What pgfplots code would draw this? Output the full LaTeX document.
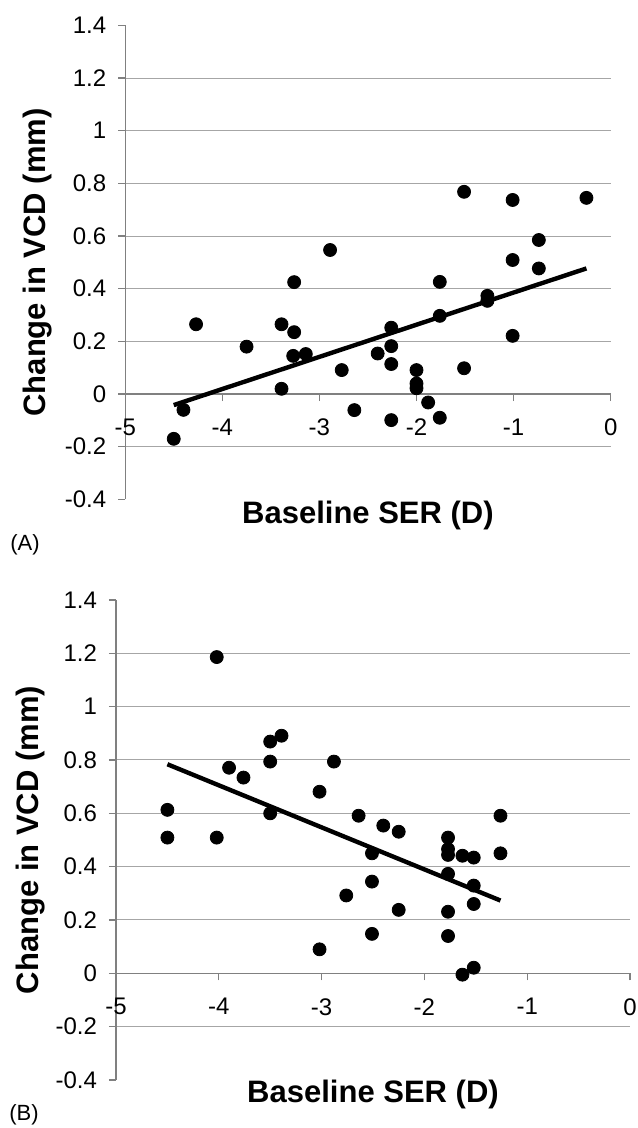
\documentclass[border=0pt]{standalone}
\usepackage{fontspec}
\setmainfont{Liberation Sans}
\usepackage{pgfplots}
\pgfplotsset{compat=1.18}
\definecolor{axgray}{HTML}{808080}
\definecolor{grgray}{HTML}{A6A6A6}
\pgfplotsset{
  panel/.style={
    scale only axis,
    xmin=-5, xmax=0, ymin=-0.4, ymax=1.4,
    axis x line*=middle, axis y line*=left,
    hide obscured x ticks=false, hide obscured y ticks=false,
    xtick={-5,-4,-3,-2,-1,0},
    ytick={-0.2,0,0.2,0.4,0.6,0.8,1,1.2},
    extra y ticks={-0.4,1.4},
    extra y tick style={grid=none},
    ymajorgrids,
    grid style={grgray, line width=0.5pt},
    axis line style={axgray, line width=0.6pt},
    tick style={axgray, line width=0.6pt},
    major tick length=3.5pt,
    tick align=outside,
    /pgf/number format/assume math mode=true,
    every tick label/.append style={font=\fontsize{12}{14}\selectfont},
    xticklabel style={yshift=-5.5pt},
    yticklabel style={xshift=-2.5pt},
    label style={font=\fontsize{15.5}{18}\selectfont\bfseries},
    clip=false,
  },
  dots/.style={only marks, mark=*, mark size=3.25pt, black, mark options={fill=black, draw=black}},
  trend/.style={black, line width=2.2pt, no marks},
}
\begin{document}
\begin{tikzpicture}
\path[use as bounding box] (0,0) rectangle (318.5pt,564pt);
% Panel A
\begin{axis}[panel, at={(62.6pt,314.3pt)}, anchor=south west,
  width=242.75pt, height=237pt,
  xlabel={Baseline SER (D)}, ylabel={Change in VCD (mm)},
  xlabel style={at={(axis description cs:0.5,-0.035)}, anchor=center},
  ylabel style={at={(axis description cs:-0.180,0.5)}, anchor=center}]
\addplot[dots] coordinates {
(-4.5,-0.17) (-4.4,-0.06) (-4.27,0.265) (-3.75,0.18) (-3.39,0.265) (-3.39,0.02)
(-3.26,0.425) (-3.26,0.235) (-3.27,0.145) (-3.14,0.152) (-2.89,0.547) (-2.77,0.091)
(-2.64,-0.061) (-2.40,0.154) (-2.26,0.252) (-2.26,0.182) (-2.26,0.114) (-2.26,-0.099)
(-2.0,0.091) (-2.0,0.04) (-2.0,0.022) (-1.88,-0.032) (-1.76,0.426) (-1.76,0.297)
(-1.76,-0.09) (-1.51,0.768) (-1.51,0.098) (-1.27,0.373) (-1.27,0.354) (-1.01,0.737)
(-1.01,0.509) (-1.01,0.221) (-0.74,0.585) (-0.74,0.477) (-0.25,0.745)
};
\addplot[trend] coordinates {(-4.5,-0.042) (-0.25,0.477)};
\end{axis}
% Panel B
\begin{axis}[panel, at={(58pt,24pt)}, anchor=south west,
  width=257pt, height=240pt,
  xlabel={Baseline SER (D)}, ylabel={Change in VCD (mm)},
  xlabel style={at={(axis description cs:0.5,-0.031)}, anchor=center},
  ylabel style={at={(axis description cs:-0.167,0.5)}, anchor=center}]
\addplot[dots] coordinates {
(-4.02,1.186) (-3.39,0.891) (-3.50,0.869) (-3.50,0.794) (-2.88,0.794) (-3.90,0.771)
(-3.76,0.734) (-3.02,0.681) (-4.50,0.613) (-3.50,0.600) (-2.64,0.591) (-4.50,0.509)
(-4.02,0.509) (-2.76,0.292) (-2.40,0.554) (-2.25,0.531) (-2.51,0.450) (-2.51,0.344)
(-2.25,0.238) (-2.51,0.148) (-3.02,0.090) (-1.77,0.509) (-1.77,0.466) (-1.77,0.444)
(-1.63,0.441) (-1.52,0.434) (-1.26,0.591) (-1.26,0.450) (-1.77,0.373) (-1.52,0.329)
(-1.52,0.260) (-1.77,0.231) (-1.77,0.140) (-1.63,-0.005) (-1.52,0.021)
};
\addplot[trend] coordinates {(-4.5,0.784) (-1.26,0.273)};
\end{axis}
\node[font=\fontsize{11}{13}\selectfont] at (12.5pt,291.5pt) {(A)};
\node[font=\fontsize{11}{13}\selectfont] at (12pt,6.5pt) {(B)};
\end{tikzpicture}
\end{document}
